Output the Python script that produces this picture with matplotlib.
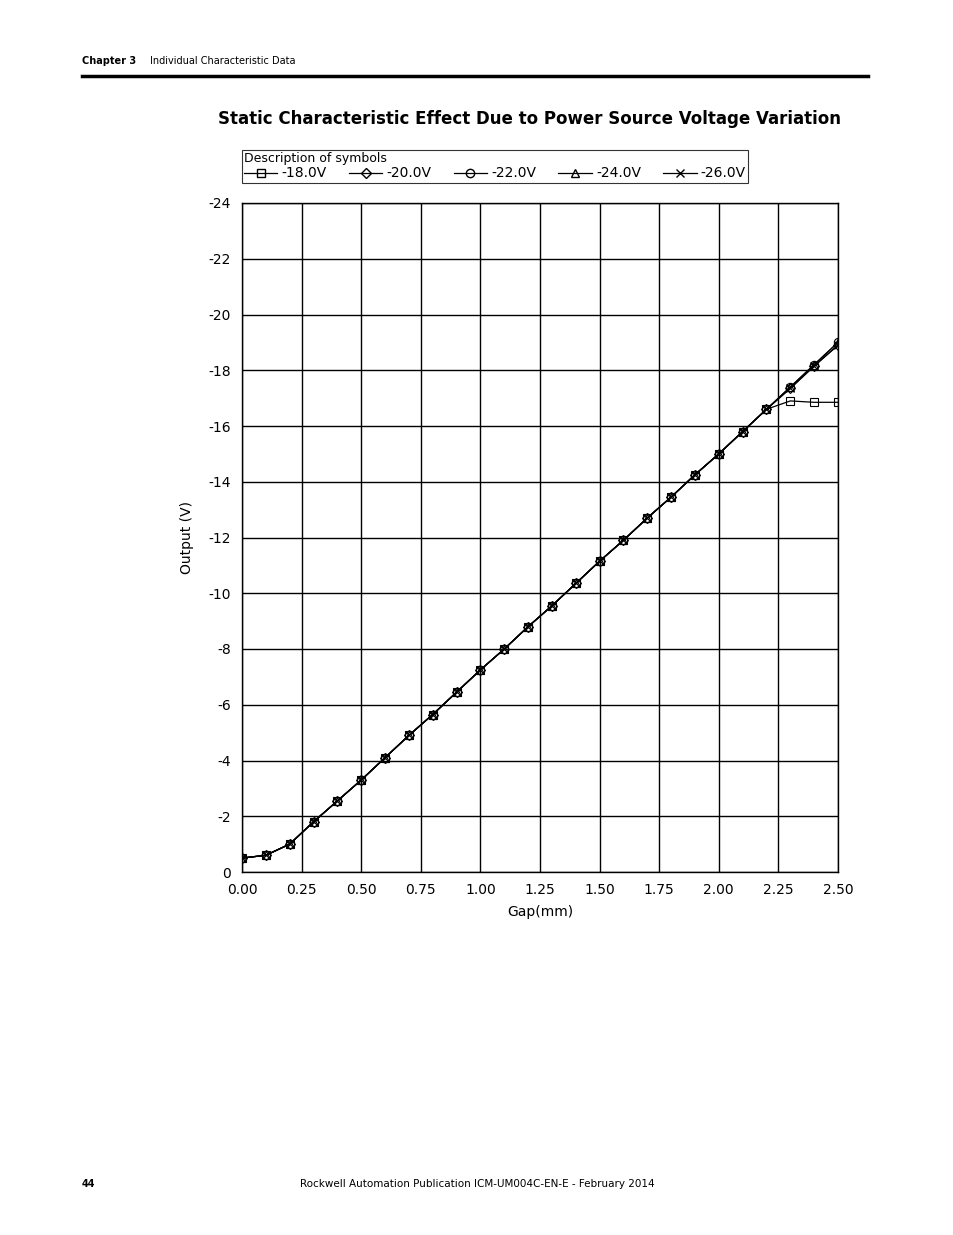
import matplotlib
matplotlib.use("Agg")
import matplotlib.pyplot as plt
from matplotlib.lines import Line2D

gap = [0.0,0.1,0.2,0.3,0.4,0.5,0.6,0.7,0.8,0.9,1.0,1.1,1.2,1.3,1.4,1.5,1.6,1.7,1.8,1.9,2.0,2.1,2.2,2.3,2.4,2.5]
common = [-0.5,-0.6,-1.0,-1.8,-2.55,-3.3,-4.1,-4.9,-5.65,-6.45,-7.25,-8.0,-8.8,-9.55,-10.35,-11.15,-11.9,-12.7,-13.45,-14.25,-15.0,-15.8,-16.6]
v18 = common + [-16.9,-16.85,-16.85]
v20 = common + [-17.35,-18.15,-18.9]
v22 = common + [-17.4,-18.2,-19.0]
v24 = common + [-17.4,-18.2,-19.0]
v26 = common + [-17.35,-18.15,-18.9]
labels = ["-18.0V","-20.0V","-22.0V","-24.0V","-26.0V"]
markers = ["s","D","o","^","x"]
series = [v18,v20,v22,v24,v26]

W,H = 954,1235
fig = plt.figure(figsize=(9.54,12.35), dpi=100)
ax = fig.add_axes([242/W, 1-872/H, (838-242)/W, (872-203)/H])
for s,m in zip(series,markers):
    ms = 6 if m!="D" else 5
    ax.plot(gap, s, color="black", lw=0.9, marker=m, ms=ms, mfc="none", mec="black", mew=0.8)
ax.set_xlim(0,2.5)
ax.set_ylim(0,-24)
ax.set_xticks([0,0.25,0.5,0.75,1.0,1.25,1.5,1.75,2.0,2.25,2.5])
ax.set_xticklabels(["0.00","0.25","0.50","0.75","1.00","1.25","1.50","1.75","2.00","2.25","2.50"])
ax.set_yticks(range(0,-25,-2))
ax.set_yticklabels([str(v) if v!=0 else "0" for v in range(0,-25,-2)])
ax.grid(True, color="black", lw=1.0)
ax.tick_params(length=0, labelsize=10, pad=8)
for sp in ax.spines.values(): sp.set_linewidth(1.0)
ax.set_xlabel("Gap(mm)", fontsize=10, labelpad=6)
ax.set_ylabel("Output (V)", fontsize=10, labelpad=10)

handles = [Line2D([],[],color="black",lw=0.9,marker=m,ms=6 if m!="D" else 5,mfc="none",mec="black") for m in markers]
leg = fig.legend(handles, labels, loc="upper left", bbox_to_anchor=(242/W, 1-150/H),
                 ncol=5, title="Description of symbols", fontsize=10, title_fontsize=9,
                 frameon=True, fancybox=False, edgecolor="black", borderpad=0.15, handlelength=2.4,
                 handletextpad=0.3, columnspacing=1.6, borderaxespad=0, labelspacing=0.1)
leg._legend_box.align = "left"
leg.get_frame().set_linewidth(0.8)

fig.text(82/W, 1-61/H, "Chapter 3", fontsize=7, weight="bold", va="center")
fig.text(150/W, 1-61/H, "Individual Characteristic Data", fontsize=7, va="center")
fig.add_artist(Line2D([82/W, 868/W], [1-76/H]*2, color="black", lw=2.5))
fig.text(841/W, 1-119/H, "Static Characteristic Effect Due to Power Source Voltage Variation", fontsize=12,
         weight="bold", ha="right", va="center")
fig.text(82/W, 1-1184/H, "44", fontsize=7, weight="bold", va="center")
fig.text(477/W, 1-1184/H, "Rockwell Automation Publication ICM-UM004C-EN-E - February 2014", fontsize=7.5,
         ha="center", va="center")
fig.savefig("out.png", dpi=100)
